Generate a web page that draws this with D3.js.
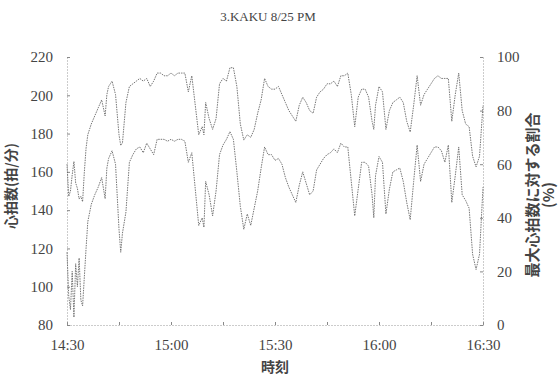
<!DOCTYPE html>
<html>
<head>
<meta charset="utf-8">
<script src="https://cdn.jsdelivr.net/npm/d3@7"></script>
<style>
  body { margin: 0; background: #fff; }
  text { fill: #444; }
</style>
</head>
<body>
<div id="chart"></div>
<script>
// minutes after 14:30
const minutes = [
  0, 0.5, 1, 1.5, 2, 2.5, 3, 3.5, 4, 4.5, 5, 5.5, 6, 7, 8, 9, 10, 11, 11.5, 12, 13, 14, 15, 15.5, 16, 17, 18, 19,
  20, 21, 22, 23, 24, 25, 26, 27, 28, 29, 30, 31, 32, 33, 34, 35, 36, 37, 38, 39, 39.5,
  40, 41, 42, 43, 44, 45, 46, 47, 48, 49, 50, 51, 52, 53, 54, 55, 56, 57, 58, 59,
  60, 61, 62, 63, 64, 65, 66, 67, 68, 69, 70, 71, 72, 73, 74, 75, 76, 77, 78, 79,
  80, 81, 82, 83, 84, 85, 86, 87, 88, 88.5, 89, 90, 91, 92, 93, 94, 95, 96, 97, 98, 99,
  100, 101, 102, 103, 104, 105, 106, 107, 108, 109, 110, 111, 112, 113, 114, 115, 116, 117, 118, 119, 120
];

// heart rate (bpm), left axis
const heartRate = [
  118, 95, 88, 108, 84, 112, 100, 115, 93, 90, 105, 120, 134, 143, 148, 152, 157, 146, 162, 167, 171, 164, 130, 118, 128, 139, 165, 169,
  172, 173, 170, 175, 172, 169, 177, 177, 177, 176, 177, 176, 177, 177, 176, 165, 170, 151, 132, 136, 131,
  155, 148, 137, 150, 169, 174, 177, 181, 177, 160, 142, 130, 138, 132, 141, 150, 162, 173, 169, 169,
  166, 167, 164, 157, 152, 148, 144, 153, 160, 154, 148, 150, 161, 164, 167, 169, 170, 172, 170, 175,
  173, 173, 155, 137, 151, 165, 165, 163, 148, 136, 158, 168, 165, 138, 151, 160, 161, 162, 155, 144, 135,
  155, 174, 155, 164, 167, 170, 173, 173, 171, 165, 174, 144, 158, 173, 148, 145, 141, 117, 109, 117, 152
];

// percent of maximum heart rate, right axis
const percentMax = [
  60, 48, 50, 56, 61, 53, 51, 47, 48, 46, 57, 66, 71, 75, 78, 81, 84, 78, 86, 89, 91, 86, 71, 67, 68, 83, 89, 90,
  91, 92, 91, 92, 89, 91, 94, 94, 93, 93, 94, 93, 94, 94, 94, 87, 93, 82, 71, 74, 71,
  83, 77, 73, 77, 90, 92, 91, 96, 96, 89, 75, 69, 71, 70, 73, 79, 84, 92, 89, 88,
  88, 89, 86, 83, 80, 78, 76, 82, 85, 83, 80, 79, 85, 87, 88, 90, 90, 91, 89, 93,
  93, 94, 86, 74, 85, 88, 88, 85, 76, 73, 82, 89, 87, 73, 80, 83, 84, 85, 83, 76, 72,
  82, 93, 82, 86, 88, 90, 92, 93, 92, 92, 92, 76, 86, 94, 80, 75, 74, 63, 59, 63, 82
];

const hrTicks = [80, 100, 120, 140, 160, 180, 200, 220];
const pctTicks = [0, 20, 40, 60, 80, 100];

const width = 560;
const height = 380;
const margin = { top: 57, right: 77, bottom: 55, left: 67 };
const base = new Date(2000, 7, 25, 14, 30);
const toDate = (m) => new Date(base.getTime() + m * 60000);

const svg = d3.select('#chart')
  .append('svg')
  .attr('width', width)
  .attr('height', height);

const x = d3.scaleTime()
  .domain([toDate(0), toDate(120)])
  .range([margin.left, width - margin.right]);

const yHr = d3.scaleLinear()
  .domain([80, 220])
  .range([height - margin.bottom, margin.top]);

const yPct = d3.scaleLinear()
  .domain([0, 100])
  .range([height - margin.bottom, margin.top]);

const serif = '"Liberation Serif", "DejaVu Serif", serif';
const jp = '"Noto Sans CJK JP", sans-serif';

// title
svg.append('text')
  .attr('x', 268)
  .attr('y', 21)
  .attr('text-anchor', 'middle')
  .style('font-family', serif)
  .style('font-size', '13px')
  .text('3.KAKU 8/25 PM');

// axes (dotted, like the scan)
const styleAxis = (g) => {
  g.attr('font-family', null);
  g.select('.domain').attr('stroke', '#999').attr('stroke-dasharray', '1,2');
  g.selectAll('.tick line').attr('stroke', '#888');
  g.selectAll('.tick text')
    .style('font-family', serif)
    .style('font-size', '15px')
    .attr('fill', '#555');
};

const xTicks = d3.range(0, 121, 15).map(toDate);
const fmt = d3.timeFormat('%H:%M');

svg.append('g')
  .attr('transform', `translate(0,${height - margin.bottom})`)
  .call(d3.axisBottom(x)
    .tickValues(xTicks)
    .tickFormat((d) => (d.getMinutes() % 30 === 0 ? fmt(d) : ''))
    .tickSizeInner(-3)
    .tickSizeOuter(0)
    .tickPadding(14))
  .call(styleAxis);

svg.append('g')
  .attr('transform', `translate(${margin.left},0)`)
  .call(d3.axisLeft(yHr)
    .tickValues(hrTicks)
    .tickSizeInner(-3)
    .tickSizeOuter(0)
    .tickPadding(14))
  .call(styleAxis);

svg.append('g')
  .attr('transform', `translate(${width - margin.right},0)`)
  .call(d3.axisRight(yPct)
    .tickValues(pctTicks)
    .tickSizeInner(-3)
    .tickSizeOuter(0)
    .tickPadding(14))
  .call(styleAxis);

// axis titles
svg.append('text')
  .attr('transform', 'translate(16,186) rotate(-90)')
  .attr('text-anchor', 'middle')
  .style('font-family', jp)
  .style('font-size', '14px')
  .style('font-weight', 'bold')
  .text('心拍数(拍/分)');

const rightTitle = svg.append('text')
  .attr('transform', 'translate(538,195) rotate(-90)')
  .attr('text-anchor', 'middle')
  .style('font-family', jp)
  .style('font-size', '15px')
  .style('font-weight', 'bold');
rightTitle.append('tspan').attr('x', 0).attr('dy', 0).text('最大心拍数に対する割合');
rightTitle.append('tspan').attr('x', 0).attr('dy', 16).text('(%)');

svg.append('text')
  .attr('x', 275)
  .attr('y', 372)
  .attr('text-anchor', 'middle')
  .style('font-family', jp)
  .style('font-size', '14px')
  .style('font-weight', 'bold')
  .text('時刻');

// lines
const hrLine = d3.line()
  .x((d, i) => x(toDate(minutes[i])))
  .y((d) => yHr(d));

const pctLine = d3.line()
  .x((d, i) => x(toDate(minutes[i])))
  .y((d) => yPct(d));

svg.append('path')
  .datum(heartRate)
  .attr('fill', 'none')
  .attr('stroke', '#666')
  .attr('stroke-width', 0.9)
  .attr('stroke-dasharray', '1.5,1')
  .attr('d', hrLine);

svg.append('path')
  .datum(percentMax)
  .attr('fill', 'none')
  .attr('stroke', '#666')
  .attr('stroke-width', 0.9)
  .attr('stroke-dasharray', '1.5,1')
  .attr('d', pctLine);
</script>
</body>
</html>
